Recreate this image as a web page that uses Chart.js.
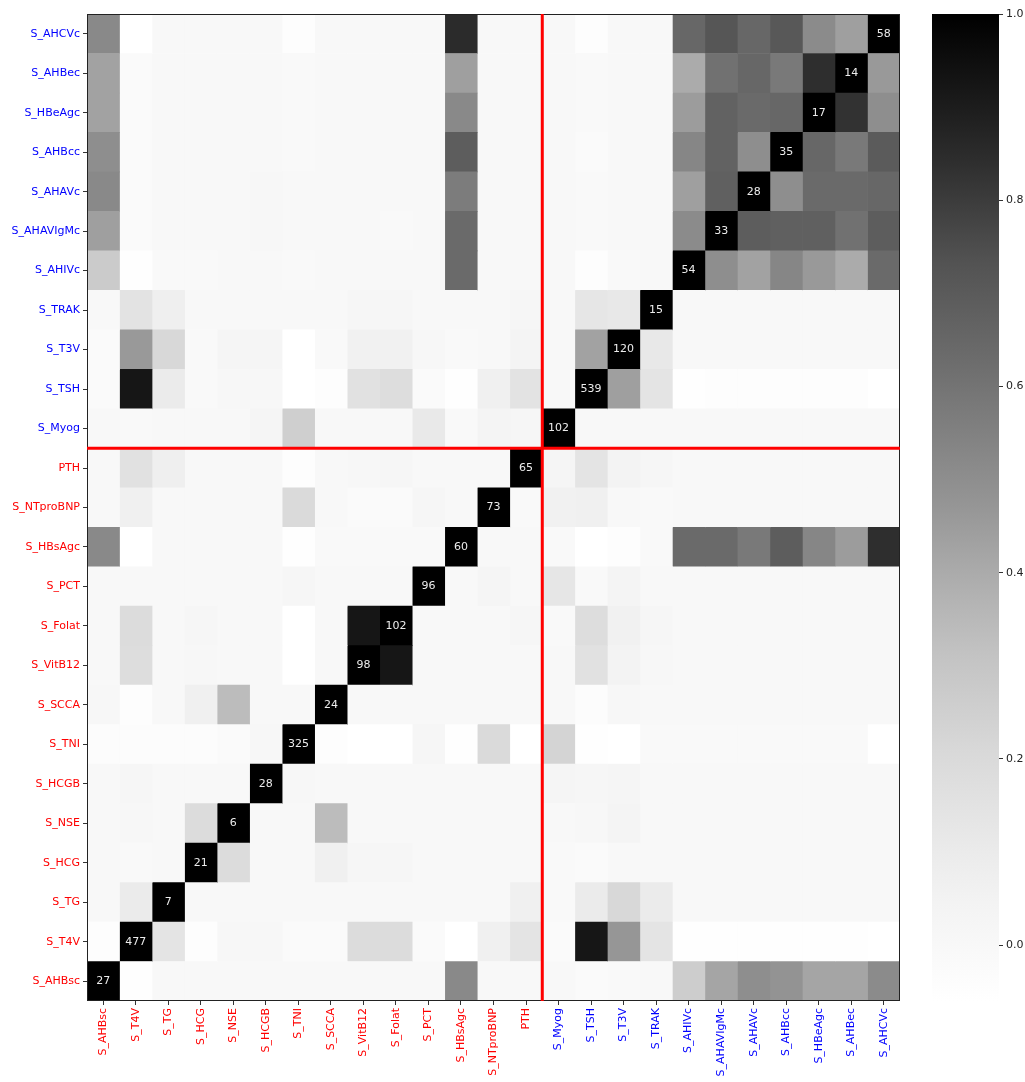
<!DOCTYPE html>
<html>
<head>
<meta charset="utf-8">
<script src="https://cdn.jsdelivr.net/npm/chart.js@4"></script>
<style>
  body { margin: 0; background: #fff; }
  #wrap { position: relative; width: 1025px; height: 1082px; }
  #heat { position: absolute; left: 0; top: 0; }
  #cbar { position: absolute; left: 925px; top: 0; }
</style>
</head>
<body>
<div id="wrap">
  <canvas id="heat" width="910" height="1082"></canvas>
  <canvas id="cbar" width="100" height="1082"></canvas>
</div>
<script>
// columns, left to right (rows run the other way, top to bottom)
const variables = ['S_AHBsc','S_T4V','S_TG','S_HCG','S_NSE','S_HCGB','S_TNI','S_SCCA','S_VitB12','S_Folat','S_PCT','S_HBsAgc','S_NTproBNP','PTH',
  'S_Myog','S_TSH','S_T3V','S_TRAK','S_AHIVc','S_AHAVIgMc','S_AHAVc','S_AHBcc','S_HBeAgc','S_AHBec','S_AHCVc'];
// n shown on the diagonal, same order as variables
const counts = [27,477,7,21,6,28,325,24,98,102,96,60,73,65,102,539,120,15,54,33,28,35,17,14,58];
const nRed = 14; // first group -> red labels, rest blue
const rowLabels = variables.slice().reverse();
const cbTicks = [0, 0.2, 0.4, 0.6, 0.8, 1.0];

// correlation values, one row per rowLabels entry (top to bottom), columns = variables
const corr = [
  [0.52,-0.06,0,0,0,0,-0.04,0,0,0,0,0.85,0,0,0,-0.04,0,0,0.65,0.72,0.65,0.71,0.51,0.44,1],          // S_AHCVc
  [0.43,-0.02,0,0,0,0,-0.01,0,0,0,0,0.44,0,0,0,-0.01,0,0,0.40,0.61,0.65,0.58,0.84,1,0.46],          // S_AHBec
  [0.43,-0.02,0,0,0,0,-0.01,0,0,0,0,0.52,0,0,0,-0.01,0,0,0.45,0.67,0.64,0.65,1,0.83,0.50],          // S_HBeAgc
  [0.50,-0.02,0,0,0,0,-0.01,0,0,0,0,0.69,0,0,0,-0.02,0,0,0.53,0.67,0.50,1,0.65,0.58,0.70],          // S_AHBcc
  [0.52,-0.02,0,0,0,0.01,0,0,0,0,0,0.57,0,0,0,-0.01,0,0,0.44,0.68,1,0.50,0.64,0.64,0.65],           // S_AHAVc
  [0.44,-0.02,0,0,0,0.01,0,0,0,-0.01,0,0.64,0,0,0,-0.01,0,0,0.51,1,0.69,0.68,0.68,0.61,0.69],       // S_AHAVIgMc
  [0.27,-0.05,-0.01,-0.01,0,0,-0.01,0,0,0,0,0.64,0,0,0,-0.04,-0.01,0,1,0.50,0.43,0.53,0.46,0.40,0.64], // S_AHIVc
  [0,0.15,0.08,0,0,0,0,0,0.02,0.02,0,0,0,0.02,0,0.13,0.12,1,0,0,0,0,0,0,0],                         // S_TRAK
  [-0.02,0.46,0.21,-0.01,0.03,0.03,-0.06,-0.01,0.06,0.06,0.01,-0.01,0,0.04,0,0.43,1,0.12,0,0,0,0,0,0,0], // S_T3V
  [-0.02,0.92,0.10,-0.01,0.01,0.01,-0.06,-0.04,0.16,0.18,-0.02,-0.05,0.07,0.15,0,1,0.44,0.14,-0.05,-0.04,-0.04,-0.04,-0.04,-0.04,-0.06], // S_TSH
  [0,-0.01,0,0,0,0.03,0.25,0,0,0,0.11,-0.01,0.04,0.02,1,0,0,0,0,0,0,0,0,0,0],                       // S_Myog
  [0,0.16,0.08,0,0,0,-0.04,0,0.01,0.02,0,0,0,1,0.03,0.14,0.05,0.02,0,0,0,0,0,0,0],                  // PTH
  [0,0.07,0,0,0,0,0.20,0,-0.02,-0.02,0.02,0,1,-0.01,0.06,0.07,0,-0.01,0,0,0,0,0,0,0],               // S_NTproBNP
  [0.52,-0.06,0,0,0,0,-0.05,-0.01,-0.01,-0.01,-0.01,1,0,0,-0.01,-0.06,-0.04,-0.01,0.64,0.64,0.58,0.69,0.53,0.45,0.84], // S_HBsAgc
  [0,0,0,0,0,0,0.02,0,0,0,1,0,0.03,0,0.13,-0.01,0.04,0,0,0,0,0,0,0,0],                              // S_PCT
  [0,0.19,0,0.02,0,0,-0.06,0,0.92,1,0,0,0,0.02,-0.01,0.18,0.06,0.02,0,0,0,0,0,0,0],                 // S_Folat
  [0,0.18,0,0.01,0,0,-0.06,0,1,0.92,0,0,0,0,0,0.16,0.05,0.01,0,0,0,0,0,0,0],                        // S_VitB12
  [0.01,-0.04,0,0.07,0.34,0,0,1,0,0,0,0,0,0,0,-0.03,0.01,0,0,0,0,0,0,0,0],                          // S_SCCA
  [-0.03,-0.03,-0.03,-0.03,-0.02,0.01,1,-0.04,-0.06,-0.06,0.02,-0.05,0.20,-0.06,0.23,-0.05,-0.06,-0.01,-0.01,-0.01,-0.01,-0.01,-0.01,-0.01,-0.06], // S_TNI
  [0,0.02,0,0,0,1,0.01,0,0,0,0,0,0,0,0.03,0.02,0.03,0,0,0,0,0,0,0,0],                               // S_HCGB
  [0,0.01,0,0.19,1,0,0,0.34,0,0,0,0,0,0,0,0.01,0.04,0,0,0,0,0,0,0,0],                               // S_NSE
  [0,-0.01,0,1,0.19,0,0,0.07,0.02,0.02,0,0,0,0,-0.01,-0.02,0,0,0,0,0,0,0,0,0],                      // S_HCG
  [0,0.10,1,0,0,0,0,0,0,0,0,0,0,0.07,-0.01,0.10,0.21,0.10,0,0,0,0,0,0,0],                           // S_TG
  [-0.04,1,0.14,-0.04,0.01,0.01,-0.02,-0.02,0.19,0.19,-0.02,-0.06,0.07,0.14,-0.02,0.92,0.47,0.14,-0.05,-0.05,-0.05,-0.05,-0.05,-0.05,-0.06], // S_T4V
  [1,-0.05,0,0,0,0,0,0,0,0,0,0.52,0,0,0,-0.02,-0.01,0,0.26,0.42,0.50,0.48,0.42,0.42,0.51]           // S_AHBsc
];

const nVar = variables.length;
const vmin = Math.min(...corr.flat());
const vmax = 1;

// matplotlib "Greys" anchor levels
const greyLevels = [255, 240, 217, 189, 150, 115, 82, 37, 0];
function grey(t) {
  t = Math.max(0, Math.min(1, t));
  const p = t * (greyLevels.length - 1);
  const i = Math.min(Math.floor(p), greyLevels.length - 2);
  const g = Math.round(greyLevels[i] + (greyLevels[i + 1] - greyLevels[i]) * (p - i));
  return 'rgb(' + g + ',' + g + ',' + g + ')';
}
const cellColor = v => grey((v - vmin) / (vmax - vmin));

const labelFont = { family: 'DejaVu Sans', size: 11 };

const overlay = {
  id: 'overlay',
  afterDatasetsDraw(chart) {
    const { ctx, chartArea: a, scales: { x, y } } = chart;
    ctx.save();
    ctx.fillStyle = '#ececec';
    ctx.font = '11px "DejaVu Sans"';
    ctx.textAlign = 'center';
    ctx.textBaseline = 'middle';
    counts.forEach((n, i) => {
      ctx.fillText(String(n), x.getPixelForValue(i + 0.5), y.getPixelForValue(nVar - 1 - i));
    });

    ctx.strokeStyle = '#222';
    ctx.lineWidth = 1;
    ctx.strokeRect(a.left + 0.5, a.top + 0.5, a.width - 1, a.height - 1);

    // split between the two groups
    const sx = x.getPixelForValue(nRed);
    const sy = (y.getPixelForValue(nVar - nRed - 1) + y.getPixelForValue(nVar - nRed)) / 2;
    ctx.strokeStyle = '#ff0000';
    ctx.lineWidth = 3;
    ctx.beginPath();
    ctx.moveTo(sx, a.top); ctx.lineTo(sx, a.bottom);
    ctx.moveTo(a.left, sy); ctx.lineTo(a.right, sy);
    ctx.stroke();
    ctx.restore();
  }
};

new Chart(document.getElementById('heat'), {
  type: 'bar',
  data: {
    labels: rowLabels,
    datasets: variables.map((name, j) => ({
      label: name,
      data: rowLabels.map(() => [j, j + 1]),
      backgroundColor: corr.map(row => cellColor(row[j])),
      borderWidth: 0,
      barPercentage: 1,
      categoryPercentage: 1,
      grouped: false
    }))
  },
  options: {
    indexAxis: 'y',
    responsive: false,
    animation: false,
    layout: { padding: { top: 14, right: 10, left: 0, bottom: 0 } },
    plugins: { legend: { display: false }, tooltip: { enabled: false } },
    scales: {
      x: {
        type: 'linear',
        min: 0,
        max: nVar,
        afterBuildTicks: axis => { axis.ticks = variables.map((_, i) => ({ value: i + 0.5 })); },
        afterFit: axis => { axis.height = 81; },
        grid: { drawOnChartArea: false, drawTicks: true, tickLength: 4, color: '#333' },
        border: { display: false },
        ticks: {
          autoSkip: false,
          minRotation: 90,
          maxRotation: 90,
          padding: 3,
          font: labelFont,
          color: ctx => ctx.index < nRed ? '#ff0000' : '#0000ff',
          callback: (v, i) => variables[i]
        }
      },
      y: {
        type: 'category',
        afterFit: axis => { axis.width = 87; },
        grid: { drawOnChartArea: false, drawTicks: true, tickLength: 4, color: '#333', offset: false },
        border: { display: false },
        ticks: {
          autoSkip: false,
          padding: 3,
          font: labelFont,
          color: ctx => ctx.index < nVar - nRed ? '#0000ff' : '#ff0000'
        }
      }
    }
  },
  plugins: [overlay]
});

// colour bar
new Chart(document.getElementById('cbar'), {
  type: 'bar',
  data: {
    labels: ['scale'],
    datasets: [{
      data: [[vmin, vmax]],
      barPercentage: 1,
      categoryPercentage: 1,
      borderWidth: 0,
      backgroundColor: ctx => {
        const chart = ctx.chart;
        if (!chart.chartArea) return '#888';
        const ys = chart.scales.y;
        const y0 = ys.getPixelForValue(vmin), y1 = ys.getPixelForValue(vmax);
        const g = chart.ctx.createLinearGradient(0, y0, 0, y1);
        for (let k = 0; k <= 20; k++) g.addColorStop(k / 20, grey(k / 20));
        return g;
      }
    }]
  },
  options: {
    responsive: false,
    animation: false,
    layout: { padding: { top: 14, bottom: 81, left: 7, right: 0 } },
    plugins: { legend: { display: false }, tooltip: { enabled: false } },
    scales: {
      x: { display: false },
      y: {
        position: 'right',
        min: vmin,
        max: vmax,
        afterBuildTicks: axis => { axis.ticks = cbTicks.map(v => ({ value: v })); },
        afterFit: axis => { axis.width = 26; },
        grid: { drawOnChartArea: false, drawTicks: true, tickLength: 4, color: '#333' },
        border: { display: false },
        ticks: { padding: 3, font: labelFont, color: '#222', callback: v => v.toFixed(1) }
      }
    }
  }
});
</script>
</body>
</html>
